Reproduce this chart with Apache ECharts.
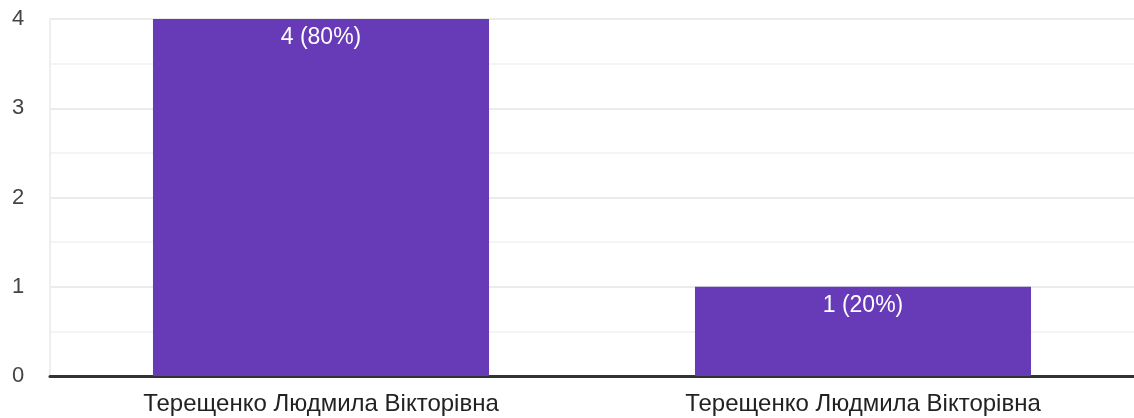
<!DOCTYPE html>
<html>
<head>
<meta charset="utf-8">
<script src="https://cdn.jsdelivr.net/npm/echarts@6/dist/echarts.min.js"></script>
<style>html,body{margin:0;padding:0;background:#fff;}#c{width:1134px;height:418px;}</style>
</head>
<body>
<div id="c"></div>
<script>
const categories = ['Терещенко Людмила Вікторівна', 'Терещенко Людмила Вікторівна'];
const counts = [4, 1];
const yTicks = [0, 1, 2, 3, 4];
const total = counts.reduce((a, b) => a + b, 0);
const FONT = 'Liberation Sans, Arial, sans-serif';

const chart = echarts.init(document.getElementById('c'));
chart.setOption({
  animation: false,
  textStyle: { fontFamily: FONT },
  grid: { left: 50, right: 0, top: 19, bottom: 42, containLabel: false },
  xAxis: {
    type: 'category',
    data: categories,
    axisLine: { show: true, lineStyle: { color: '#333', width: 3 } },
    axisTick: { show: false },
    axisLabel: { color: '#222', fontSize: 24, fontFamily: FONT, margin: 16 },
    splitLine: { show: false }
  },
  yAxis: {
    type: 'value',
    min: yTicks[0],
    max: yTicks[yTicks.length - 1],
    interval: 1,
    axisLine: { show: true, lineStyle: { color: '#eeeeee', width: 2 } },
    axisTick: { show: false },
    axisLabel: { color: '#444', fontSize: 22, fontFamily: FONT, margin: 32, align: 'center' },
    splitLine: { show: true, lineStyle: { color: '#ebebeb', width: 2 } },
    minorTick: { show: false, splitNumber: 2 },
    minorSplitLine: { show: true, lineStyle: { color: '#f4f4f4', width: 2 } }
  },
  series: [{
    type: 'bar',
    data: counts,
    barWidth: '62%',
    itemStyle: { color: '#673ab7' },
    label: {
      show: true,
      position: 'insideTop',
      distance: 7,
      color: '#fff',
      fontSize: 23,
      fontFamily: FONT,
      formatter: p => p.value + ' (' + Math.round(p.value / total * 100) + '%)'
    }
  }]
});
</script>
</body>
</html>
